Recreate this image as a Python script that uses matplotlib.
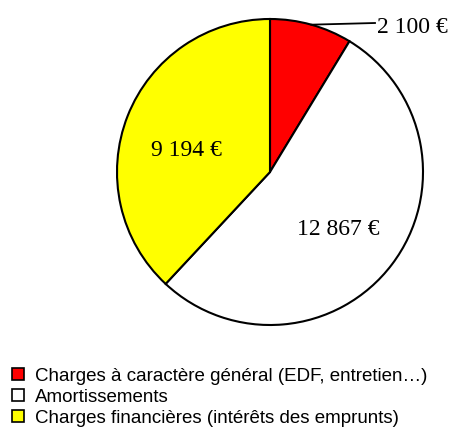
# Charges pie chart: general charges, depreciation, financial charges

import numpy as np
import matplotlib.pyplot as plt
from matplotlib.patches import Rectangle

# Data
categories = ["Charges à caractère général (EDF, entretien…)",
              "Amortissements",
              "Charges financières (intérêts des emprunts)"]
values = [2100, 12867, 9194]
value_labels = ["2 100 €", "12 867 €", "9 194 €"]
colors = ["#FF0000", "#FFFFFF", "#FFFF00"]

W, H = 454, 434
fig = plt.figure(figsize=(W / 100, H / 100), dpi=100)
ax = fig.add_axes([0, 0, 1, 1])

# pie in pixel units (y measured from the bottom)
cx, cy, R = 270, H - 172, 153
wedges, _ = ax.pie(values, colors=colors, startangle=90, counterclock=False,
                   center=(cx, cy), radius=R,
                   wedgeprops=dict(edgecolor="black", linewidth=1.5))
ax.set_xlim(0, W)
ax.set_ylim(0, H)
ax.set_aspect("equal")
ax.axis("off")

serif = ["Liberation Serif", "DejaVu Serif"]

# small slice: label outside with a leader line from the arc middle
w = wedges[0]
mid = np.deg2rad((w.theta1 + w.theta2) / 2)
x0, y0 = cx + R * np.cos(mid), cy + R * np.sin(mid)
ax.plot([x0, 375], [y0, H - 23], color="black", lw=1.3)
ax.text(377, H - 33, value_labels[0], ha="left", va="baseline",
        fontsize=17, family=serif)

# bigger slices: labels inside
ax.text(338, H - 235, value_labels[1], ha="center", va="baseline",
        fontsize=17, family=serif)
ax.text(186, H - 156, value_labels[2], ha="center", va="baseline",
        fontsize=17, family=serif)

# legend
sans = ["Liberation Sans Narrow", "Liberation Sans", "DejaVu Sans"]
for i, (lab, col) in enumerate(zip(categories, colors)):
    top = 368 + i * 21
    ax.add_patch(Rectangle((12, H - top - 12), 12, 12, facecolor=col,
                           edgecolor="black", lw=1.2))
    ax.text(35, H - top - 13, lab, ha="left", va="baseline",
            fontsize=13.5, family=sans)

fig.savefig("out.png", dpi=100)
